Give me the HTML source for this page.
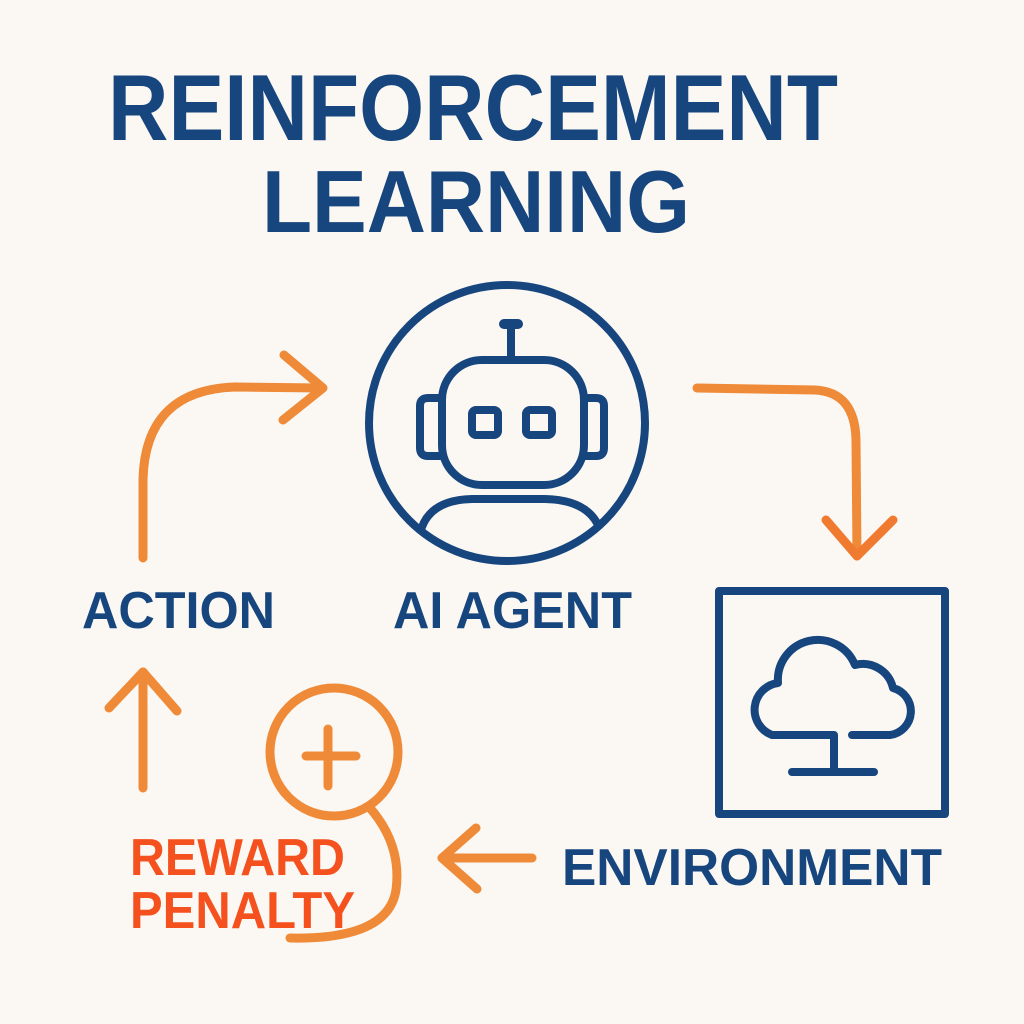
<!DOCTYPE html>
<html><head><meta charset="utf-8"><style>
html,body{margin:0;padding:0;background:#fbf8f3;}
svg{display:block}
text{font-family:"Liberation Sans","DejaVu Sans",sans-serif;font-weight:bold}
</style></head><body>
<svg width="1024" height="1024" viewBox="0 0 1024 1024" xmlns="http://www.w3.org/2000/svg">
<rect width="1024" height="1024" fill="#fbf8f3"/>
<g fill="#17467f">
<text x="108" y="140" font-size="94" textLength="730" lengthAdjust="spacingAndGlyphs">REINFORCEMENT</text>
<text x="262" y="232" font-size="88" textLength="428" lengthAdjust="spacingAndGlyphs">LEARNING</text>
<text x="82" y="628" font-size="52" textLength="193" lengthAdjust="spacingAndGlyphs">ACTION</text>
<text x="393" y="628" font-size="52" textLength="239" lengthAdjust="spacingAndGlyphs">AI AGENT</text>
<text x="562" y="885" font-size="52" textLength="380" lengthAdjust="spacingAndGlyphs">ENVIRONMENT</text>
</g>
<g fill="#f4511e">
<text x="130" y="875" font-size="52" textLength="215" lengthAdjust="spacingAndGlyphs">REWARD</text>
<text x="130" y="928" font-size="52" textLength="225" lengthAdjust="spacingAndGlyphs">PENALTY</text>
</g>
<g fill="none" stroke="#17467f" stroke-width="8" stroke-linecap="round" stroke-linejoin="round">
<circle cx="507" cy="423" r="138"/>
<rect x="442" y="360" width="142" height="125" rx="40"/>
<path d="M440 398 h-12 q-8 0 -8 8 v42 q0 8 8 8 h12"/>
<path d="M584 398 h12 q8 0 8 8 v42 q0 8 -8 8 h-12"/>
<rect x="472" y="410" width="26" height="25" rx="4"/>
<rect x="526" y="410" width="26" height="25" rx="4"/>
<line x1="511" y1="325" x2="511" y2="358"/>
<line x1="504" y1="324" x2="518" y2="324" stroke-width="10"/>
<path d="M422 527 Q432 500 472 499 L545 499 Q586 500 598 525"/>
<rect x="719" y="591" width="226" height="223" stroke-width="8"/>
<path d="M852 735 L890 735 A24 24 0 0 0 893 688 A31 31 0 0 0 855 665 A40 40 0 0 0 778 683 A27 27 0 0 0 772 735 L834 735 L834 770"/>
<line x1="792" y1="772" x2="874" y2="772"/>
</g>
<g fill="none" stroke="#ef8a38" stroke-width="9" stroke-linecap="round" stroke-linejoin="round">
<path d="M143 558 L143 480 Q145 390 235 387 L322 388"/>
<path d="M284 355 L323 388 L283 420"/>
<path d="M697 388 L815 390 Q855 392 856 440 L857 556"/>
<path d="M826 520 L857 556 L893 520" stroke="#ef7a30"/>
<line x1="143" y1="788" x2="143" y2="672"/>
<path d="M109 708 L143 672 L177 711"/>
<line x1="532" y1="858" x2="442" y2="858"/>
<path d="M476 828 L442 858 L477 889"/>
<circle cx="334" cy="752" r="64"/>
<line x1="328" y1="729" x2="328" y2="786"/>
<line x1="306" y1="756" x2="356" y2="756"/>
<path d="M370 808 Q402 845 396 890 Q388 940 290 938"/>
</g>
</svg>
</body></html>
